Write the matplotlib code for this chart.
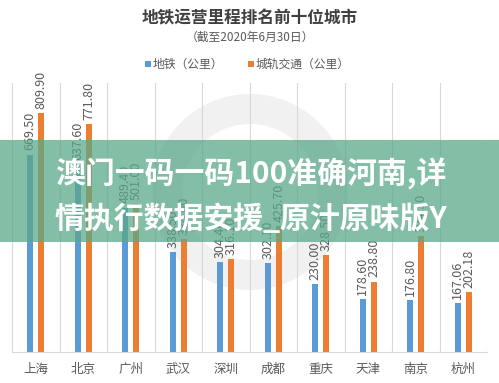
import matplotlib
matplotlib.use("Agg")
import matplotlib.pyplot as plt
import numpy as np
from matplotlib.patches import Rectangle, Wedge

plt.rcParams['font.family'] = ['Noto Sans CJK SC', 'DejaVu Sans']

cities = ["上海", "北京", "广州", "武汉", "深圳", "成都", "重庆", "天津", "南京", "杭州"]
metro = [669.50, 637.60, 489.40, 338.50, 304.40, 302.10, 230.00, 178.60, 176.80, 167.06]
urban_rail = [809.90, 771.80, 501.00, 384.00, 316.10, 425.70, 328.50, 238.80, 394.30, 202.18]
series_names = ["地铁（公里）", "城轨交通（公里）"]
title = "地铁运营里程排名前十位城市"
subtitle = "（截至2020年6月30日）"
banner_lines = ["澳门一码一码100准确河南,详", "情执行数据安援_原汁原味版Y"]

blue = "#5B9BD5"
orange = "#ED7D31"
gray_text = "#595959"

fig = plt.figure(figsize=(4.99, 3.83), dpi=100)
fig.patch.set_facecolor("white")

# faint background watermark ring
wm = fig.add_axes([0, 0, 1, 1], zorder=0)
wm.set_xlim(0, 499); wm.set_ylim(383, 0); wm.axis("off")
wm.set_aspect("equal")
wm.add_patch(Wedge((250, 192), 98, 0, 360, width=30, facecolor="#f1f1f1", edgecolor="none"))

ax = fig.add_axes([12/499, 1-352/383, 475/499, (352-83)/383], zorder=1)
ax.patch.set_alpha(0)
x = np.arange(len(cities))
w = 0.13
off = 0.118
ax.bar(x - off, metro, w, color=blue, zorder=2)
ax.bar(x + off, urban_rail, w, color=orange, zorder=2)
ax.set_xlim(-0.5, len(cities) - 0.5)
ax.set_ylim(0, 912)

for xi, v in zip(x - off, metro):
    ax.annotate(f"{v:.2f}", (xi, v), xytext=(0, 3), textcoords="offset points",
                rotation=90, ha="center", va="bottom", fontsize=9, color=gray_text, zorder=3)
for xi, v in zip(x + off, urban_rail):
    ax.annotate(f"{v:.2f}", (xi, v), xytext=(0, 3), textcoords="offset points",
                rotation=90, ha="center", va="bottom", fontsize=9, color=gray_text, zorder=3)

for b in np.arange(-0.5, len(cities), 1.0):
    ax.axvline(b, color="#d9d9d9", lw=0.8, zorder=1)

for s in ["top", "right", "left"]:
    ax.spines[s].set_visible(False)
ax.spines["bottom"].set_color("#d9d9d9")
ax.set_yticks([])
ax.set_xticks(x)
ax.set_xticklabels(cities, fontsize=9, color=gray_text)
ax.tick_params(axis="x", length=0, pad=8)

fig.text(0.5, 1-18/383, title, ha="center", va="center", fontsize=12, fontweight="bold", color="#404040")
fig.text(0.5, 1-37/383, subtitle, ha="center", va="center", fontsize=8.5, color=gray_text)

# legend
ly = 1 - 64/383
fig.patches.append(Rectangle((145/499, ly - 3/383), 6/499, 6/383, transform=fig.transFigure, facecolor=blue, edgecolor="none"))
fig.text(153/499, ly, series_names[0], ha="left", va="center", fontsize=8.5, color=gray_text)
fig.patches.append(Rectangle((248/499, ly - 3/383), 6/499, 6/383, transform=fig.transFigure, facecolor=orange, edgecolor="none"))
fig.text(256/499, ly, series_names[1], ha="left", va="center", fontsize=8.5, color=gray_text)

# overlay banner
ov = fig.add_axes([0, 0, 1, 1], zorder=5)
ov.set_xlim(0, 499); ov.set_ylim(383, 0); ov.axis("off")
ov.add_patch(Rectangle((0, 140), 499, 102, facecolor="#5aa88a", alpha=0.75, edgecolor="none"))
ov.text(55, 174, banner_lines[0], ha="left", va="center", fontsize=21.5, fontweight="bold", color="white")
ov.text(55, 219, banner_lines[1], ha="left", va="center", fontsize=21.5, fontweight="bold", color="white")

fig.savefig("out.png", dpi=100)
